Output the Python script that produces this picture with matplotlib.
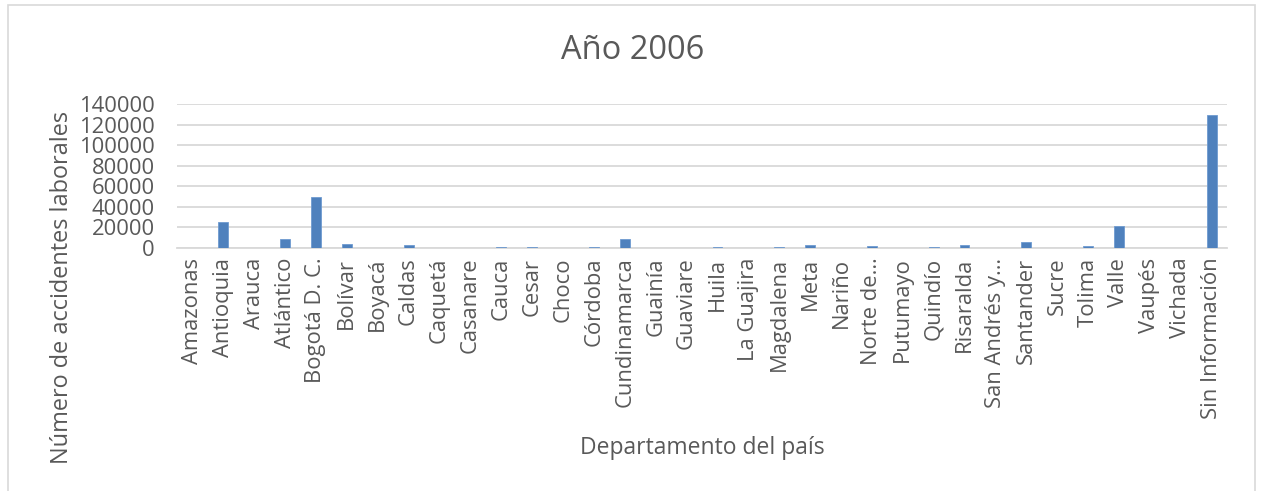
import matplotlib
matplotlib.use("Agg")
import matplotlib.pyplot as plt
from matplotlib.patches import Rectangle

departamentos = ["Amazonas", "Antioquia", "Arauca", "Atlántico", "Bogotá D. C.", "Bolívar",
                 "Boyacá", "Caldas", "Caquetá", "Casanare", "Cauca", "Cesar", "Choco",
                 "Córdoba", "Cundinamarca", "Guainía", "Guaviare", "Huila", "La Guajira",
                 "Magdalena", "Meta", "Nariño", "Norte de…", "Putumayo", "Quindío",
                 "Risaralda", "San Andrés y…", "Santander", "Sucre", "Tolima", "Valle",
                 "Vaupés", "Vichada", "Sin Información"]
accidentes = [0, 25500, 0, 9000, 50000, 3600,
              0, 2900, 0, 0, 900, 900, 0,
              900, 9000, 0, 0, 800, 0,
              800, 2800, 0, 1900, 0, 1200,
              3200, 0, 5800, 0, 2200, 21800,
              0, 0, 129000]
y_ticks = [0, 20000, 40000, 60000, 80000, 100000, 120000, 140000]

W, H = 1264, 491
fig = plt.figure(figsize=(W / 100, H / 100), dpi=100)
plt.rcParams['font.family'] = ['Open Sans', 'DejaVu Sans']
txt = '#595959'
grid = '#d9d9d9'

# chart border
fig.patches.append(Rectangle((8 / W, -0.05), (1255 - 8) / W, 1 - 5 / H + 0.05,
                             transform=fig.transFigure, fill=False,
                             edgecolor=grid, linewidth=1.2))

ax = fig.add_axes([177 / W, 1 - 248 / H, (1227 - 177) / W, (248 - 104) / H])
x = list(range(len(departamentos)))
ax.bar(x, accidentes, width=0.32, color='#4F81BD', edgecolor='#6f9bd0', linewidth=0.6, zorder=3)
ax.set_xlim(-0.5, len(departamentos) - 0.5)
ax.set_ylim(0, 140000)
ax.set_yticks(y_ticks)
ax.set_yticklabels([str(v) for v in y_ticks])
ax.set_xticks(x)
ax.set_xticklabels(departamentos, rotation=90)
ax.yaxis.grid(True, color=grid, linewidth=1.3, zorder=0)
for s in ['top', 'right', 'left']:
    ax.spines[s].set_visible(False)
ax.spines['bottom'].set_color(grid)
ax.spines['bottom'].set_linewidth(1.3)
ax.tick_params(axis='both', length=0, colors=txt, labelsize=15.8)
ax.tick_params(axis='y', pad=16)
ax.tick_params(axis='x', pad=7)

fig.text(633 / W, 1 - 50 / H, "Año 2006", ha='center', va='center',
         fontsize=23.5, color=txt)
fig.text(62 / W, 1 - 287 / H, "Número de accidentes laborales", rotation=90,
         ha='center', va='center', fontsize=16.9, color=txt)
fig.text(702 / W, 1 - 448 / H, "Departamento del país", ha='center', va='center',
         fontsize=16.5, color=txt)

fig.savefig("out.png", dpi=100)
